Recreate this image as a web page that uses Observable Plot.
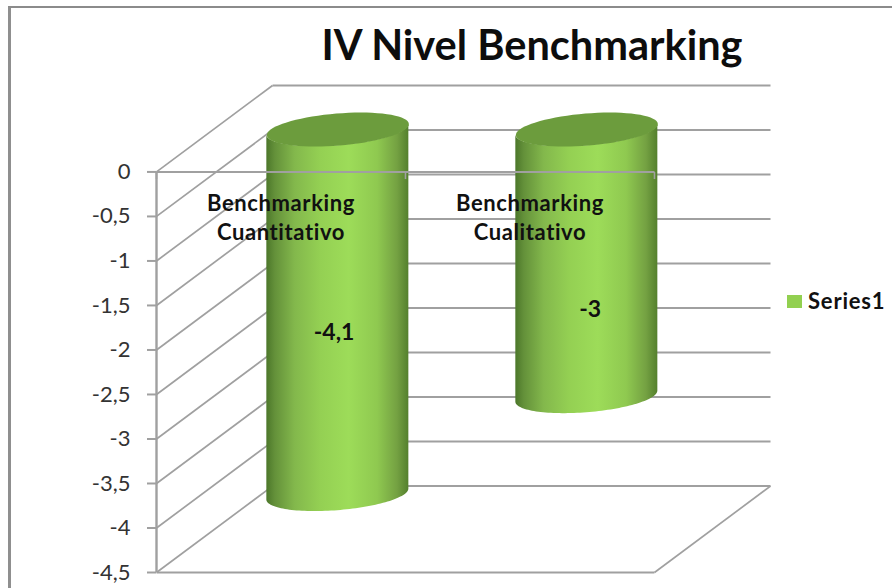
<!DOCTYPE html>
<html lang="es">
<head>
<meta charset="utf-8">
<title>IV Nivel Benchmarking</title>
<script src="https://cdn.jsdelivr.net/npm/d3@7"></script>
<script src="https://cdn.jsdelivr.net/npm/@observablehq/plot@0.6"></script>
<style>
  html, body { margin: 0; padding: 0; background: #fff; overflow: hidden; }
  #chart { position: relative; width: 892px; height: 588px; font-family: Lato, sans-serif; color: #111; }
  #chart svg { position: absolute; left: 0; top: 0; }
  #chart svg text.wide, #chart svg .wide text { letter-spacing: 0.6px; }
  #border { position: absolute; left: 8px; top: 6px; right: 0; bottom: 0; border-top: 2px solid #8b8b8b; border-left: 3px solid #8f8f8f; }
  h1 { position: absolute; left: 0; top: -1px; width: 1064px; margin: 0; text-align: center; font-size: 41.5px; line-height: 90px; font-weight: 700; color: #0d0d0d; white-space: nowrap; }
  #legend { position: absolute; left: 787px; top: 288px; display: flex; align-items: center; gap: 6px; font-size: 22px; font-weight: 700; line-height: 26px; letter-spacing: 0.8px; }
  #legend i { display: block; width: 15px; height: 13px; background: #92d050; }
</style>
</head>
<body>
<div id="chart">
  <div id="border"></div>
  <h1>IV Nivel Benchmarking</h1>
  <div id="legend"><i></i><span>Series1</span></div>
</div>
<script>
// Chart values
const categories = ["Benchmarking\nCuantitativo", "Benchmarking\nCualitativo"];
const series1 = [-4.1, -3];
const tickValues = [0, -0.5, -1, -1.5, -2, -2.5, -3, -3.5, -4, -4.5];

const comma = (d) => String(d).replace(".", ",");

// Oblique projection of the box: one unit of depth moves a point right and up,
// expressed in the units of the x (category) and y (value) scales.
const depthX = 0.466;
const depthY = 0.971;
const px = (u, d) => u + d * depthX;
const py = (v, d) => v + d * depthY;

// Cylinder cross-section, standing in the middle of the box depth.
const radiusU = 0.27;
const radiusD = 0.197;
const midDepth = 0.49;
const silhouettePhase = Math.atan2(radiusD * depthX, radiusU);
const ringPoints = 72;

const ringX = (i, t) => px(i + 0.5 + radiusU * Math.cos(t), midDepth + radiusD * Math.sin(t));
const ringY = (v, t) => py(v, midDepth + radiusD * Math.sin(t));

// Body of each cylinder: front half of the top rim down to the front half of the end rim.
const bodyRows = series1.flatMap((value, i) =>
  d3.range(ringPoints + 1).map((k) => {
    const t = silhouettePhase + Math.PI + (k / ringPoints) * Math.PI;
    return {i, x: ringX(i, t), top: ringY(0, t), end: ringY(value, t)};
  })
);

// Top face of each cylinder.
const capRows = series1.flatMap((value, i) =>
  d3.range(ringPoints).map((k) => {
    const t = (k / ringPoints) * 2 * Math.PI;
    return {i, x: ringX(i, t), y: ringY(0, t)};
  })
);

const rows = series1.map((value, i) => ({value, i, category: categories[i]}));

// Placement of the labels inside the box, in scale units.
const categoryLabelU = [0.5, 1.5];
const categoryLabelV = -0.496;
const valueLabelU = [0.713, 1.742];
const valueLabelV = [-1.8, -1.55];

const lineColor = "#a0a0a0";
const lineWidth = 2;

const shadeDefs = () => {
  const g = d3.create("svg:g");
  const grad = g.append("defs").append("linearGradient").attr("id", "cylinderShade");
  for (const [o, c] of [[0, "#4c772a"], [0.06, "#64913a"], [0.2, "#83b84c"], [0.38, "#94d053"],
                        [0.58, "#9ddc59"], [0.78, "#8fc950"], [0.92, "#74a142"], [1, "#54802d"]]) {
    grad.append("stop").attr("offset", o).attr("stop-color", c);
  }
  return g.node();
};

const plot = Plot.plot({
  width: 892,
  height: 588,
  marginLeft: 156,
  marginRight: 122,
  marginTop: 85,
  marginBottom: 16,
  style: {fontFamily: "Lato, sans-serif", background: "transparent", overflow: "visible"},
  x: {domain: [0, 2 + depthX], axis: null},
  y: {domain: [-4.5, depthY], axis: null},
  marks: [
    shadeDefs,
    // Side wall and back wall grid
    Plot.link(tickValues, {x1: () => px(0, 0), y1: (v) => py(v, 0), x2: () => px(0, 1), y2: (v) => py(v, 1),
      stroke: lineColor, strokeWidth: 1.7}),
    Plot.link(tickValues, {x1: () => px(0, 1), y1: (v) => py(v, 1), x2: () => px(2, 1), y2: (v) => py(v, 1),
      stroke: lineColor, strokeWidth: lineWidth}),
    // Floor
    Plot.link([-4.5], {x1: () => px(0, 0), y1: (v) => v, x2: () => px(2, 0), y2: (v) => v,
      stroke: lineColor, strokeWidth: lineWidth}),
    Plot.link([-4.5], {x1: () => px(2, 0), y1: (v) => v, x2: () => px(2, 1), y2: (v) => py(v, 1),
      stroke: lineColor, strokeWidth: 1.7}),
    // Cylinders
    Plot.area(bodyRows, {x1: "x", y1: "top", y2: "end", z: "i", fill: "url(#cylinderShade)"}),
    Plot.line(capRows, {x: "x", y: "y", z: "i", curve: "linear-closed", fill: "#6c9c3d", stroke: "none"}),
    // Value axis and the category axis at zero
    Plot.link([0], {x1: () => 0, y1: (v) => v, x2: () => 2, y2: (v) => v, stroke: lineColor, strokeWidth: 2}),
    Plot.link([0, 1, 2], {x1: (u) => u, y1: () => 0, x2: (u) => u, y2: () => -0.08, stroke: lineColor, strokeWidth: 1.6}),
    Plot.ruleX([0], {y1: 0, y2: -4.5, stroke: lineColor, strokeWidth: 2.4}),
    Plot.axisY(tickValues, {
      anchor: "left",
      tickSize: 9,
      tickPadding: 17,
      tickFormat: comma,
      fontSize: 22,
      stroke: lineColor,
      strokeWidth: 2,
      fill: "#333",
      label: null
    }),
    // Category and value labels
    Plot.text(rows, {x: (d) => categoryLabelU[d.i], y: () => categoryLabelV, text: "category", className: "wide",
      fontSize: 22, fontWeight: 700, lineHeight: 1.32, fill: "#111", textAnchor: "middle"}),
    Plot.text(rows, {x: (d) => valueLabelU[d.i], y: (d) => valueLabelV[d.i], text: (d) => comma(d.value),
      fontSize: 23, fontWeight: 700, fill: "#111", textAnchor: "middle"})
  ]
});

document.getElementById("chart").prepend(plot);
</script>
</body>
</html>
